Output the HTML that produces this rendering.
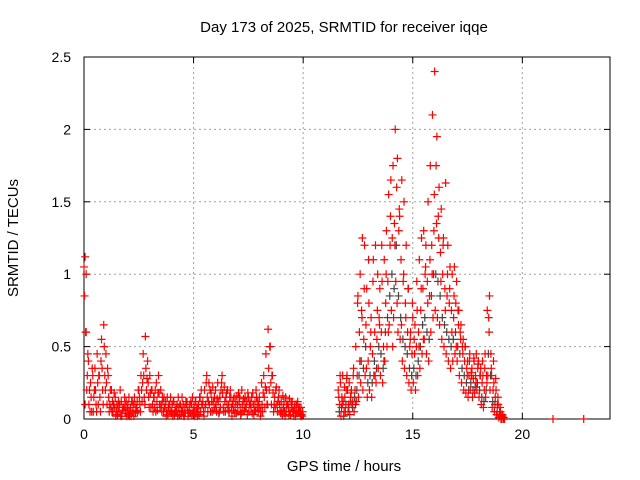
<!DOCTYPE html>
<html><head><meta charset="utf-8"><style>
body{margin:0;background:#fff}
svg{display:block;font-family:"Liberation Sans",sans-serif}
</style></head><body>
<svg id="chart" width="640" height="480">
<text x="344" y="32" text-anchor="middle" font-size="15">Day 173 of 2025, SRMTID for receiver iqqe</text>
<text x="344" y="471" text-anchor="middle" font-size="15">GPS time / hours</text>
<text transform="translate(18,238) rotate(-90)" text-anchor="middle" font-size="15">SRMTID / TECUs</text>
<g id="grid"></g>
<g id="axes"></g>
<g id="marks"></g>
</svg>
<script>
const xTicks=[0,5,10,15,20];
const yTicks=[0,0.5,1,1.5,2,2.5];
const yTickLabels=["0","0.5","1","1.5","2","2.5"];
const lowTimes=[];
const highTimes=[];
const lowA=[1.05,0.6,0.4,0.25,0.3,0.35,0.45,0.3,0.55,0.65,0.45,0.3,0.2,0.12,0.08,0.1,0.05,0.12,0.08,0.04,0.1,0.06,0.12,0.15,0.08,0.2,0.3,0.45,0.57,0.4,0.3,0.2,0.15,0.25,0.3,0.2,0.12,0.08,0.15,0.1,0.05,0.12,0.08,0.15,0.1,0.05,0.08,0.12,0.06,0.1,0.05,0.12,0.08,0.15,0.1,0.2,0.3,0.25,0.18,0.12,0.2,0.25,0.15,0.3,0.22,0.18,0.1,0.15,0.12,0.08,0.1,0.15,0.2,0.12,0.08,0.15,0.1,0.18,0.12,0.08,0.15,0.25,0.3,0.45,0.62,0.5,0.3,0.15,0.1,0.2,0.12,0.08,0.15,0.1,0.05,0.12,0.08,0.1,0.05,0.08];
const lowB=[0.85,0.2,0.1,0.15,0.05,0.2,0.25,0.15,0.35,0.5,0.25,0.15,0.08,0.05,0.15,0.03,0.1,0.02,0.06,0.12,0.03,0.08,0.05,0.1,0.12,0.15,0.2,0.3,0.35,0.25,0.18,0.1,0.08,0.12,0.18,0.1,0.05,0.12,0.03,0.06,0.1,0.03,0.05,0.08,0.03,0.1,0.04,0.06,0.1,0.03,0.08,0.04,0.1,0.05,0.12,0.08,0.15,0.1,0.12,0.06,0.1,0.12,0.08,0.18,0.12,0.1,0.05,0.08,0.06,0.12,0.05,0.08,0.1,0.06,0.12,0.05,0.08,0.1,0.06,0.12,0.08,0.1,0.15,0.2,0.35,0.25,0.18,0.08,0.05,0.1,0.06,0.12,0.05,0.08,0.03,0.06,0.1,0.04,0.08,0.03];
const lowC=[0.1,0.3,0.2,0.05,0.15,0.1,0.1,0.05,0.2,0.3,0.1,0.05,0.2,0.1,0.02,0.08,0.2,0.06,0.15,0.02,0.15,0.02,0.1,0.04,0.05,0.1,0.12,0.15,0.2,0.15,0.08,0.05,0.2,0.06,0.1,0.05,0.15,0.02,0.08,0.15,0.02,0.06,0.1,0.03,0.06,0.02,0.12,0.02,0.04,0.15,0.02,0.07,0.03,0.2,0.05,0.1,0.05,0.2,0.05,0.15,0.05,0.04,0.2,0.08,0.05,0.2,0.15,0.02,0.15,0.04,0.18,0.03,0.05,0.15,0.03,0.1,0.15,0.03,0.2,0.05,0.02,0.05,0.08,0.1,0.2,0.1,0.05,0.2,0.12,0.05,0.03,0.05,0.1,0.03,0.12,0.05,0.02,0.12,0.05,0.02];
const lowD=[0.6,0.45,0.05,0.35,0.2,0.05,0.3,0.4,0.1,0.2,0.35,0.1,0.05,0.18,0.05,0.12,0.02,0.08,0.1,0.07,0.02,0.12,0.02,0.06,0.2,0.05,0.25,0.1,0.28,0.08,0.2,0.15,0.05,0.18,0.08,0.15,0.08,0.05,0.1,0.04,0.12,0.05,0.02,0.1,0.15,0.02,0.1,0.04,0.12,0.06,0.12,0.02,0.15,0.1,0.02,0.25,0.12,0.05,0.22,0.08,0.14,0.05,0.25,0.05,0.15,0.06,0.2,0.1,0.04,0.16,0.12,0.04,0.14,0.08,0.18,0.12,0.04,0.06,0.15,0.1,0.05,0.18,0.22,0.1,0.5,0.3,0.1,0.22,0.15,0.04,0.16,0.02,0.1,0.14,0.08,0.02,0.05,0.08,0.02,0.05];
const highA=[0.2,0.25,0.3,0.15,0.3,0.25,0.2,0.35,0.5,0.85,1.0,1.25,1.2,0.9,0.8,0.7,1.1,1.2,1.0,0.9,0.95,1.1,1.3,1.55,1.65,1.75,2.0,1.8,1.4,1.65,1.5,1.2,0.9,0.6,0.7,0.65,0.75,1.1,1.25,1.3,1.2,1.5,1.75,2.1,2.4,1.95,1.6,1.45,1.25,1.63,1.2,1.05,1.0,1.05,0.95,0.75,0.65,0.55,0.5,0.4,0.45,0.35,0.4,0.45,0.4,0.35,0.3,0.45,0.75,0.85,0.3,0.25,0.2,0.1,0.05,0.02];
const highB=[0.1,0.15,0.05,0.2,0.1,0.15,0.12,0.2,0.3,0.6,0.75,0.55,0.65,0.4,0.5,0.45,0.6,0.55,0.7,0.6,0.5,0.8,0.95,1.2,1.25,1.35,1.6,1.3,1.1,0.95,0.8,0.6,0.5,0.45,0.55,0.5,0.6,0.75,0.9,1.0,0.95,0.85,1.2,1.3,1.75,1.4,1.15,1.0,0.9,0.85,0.8,0.75,0.7,0.8,0.75,0.6,0.5,0.4,0.35,0.3,0.32,0.28,0.3,0.35,0.3,0.25,0.2,0.3,0.7,0.45,0.2,0.15,0.1,0.05,0.02,0.0];
const highC=[0.05,0.08,0.02,0.1,0.05,0.12,0.08,0.15,0.2,0.3,0.4,0.35,0.5,0.25,0.3,0.25,0.4,0.35,0.5,0.45,0.35,0.6,0.7,0.85,1.0,0.9,1.2,0.85,0.7,0.55,0.5,0.45,0.35,0.3,0.35,0.3,0.4,0.5,0.65,0.7,0.6,0.55,0.85,1.0,1.0,0.95,0.85,0.7,0.65,0.6,0.55,0.5,0.55,0.6,0.5,0.45,0.35,0.3,0.25,0.2,0.25,0.2,0.22,0.25,0.2,0.15,0.12,0.2,0.45,0.3,0.12,0.1,0.05,0.02,0.0,0.01];
const highD=[0.15,0.02,0.12,0.05,0.2,0.03,0.1,0.05,0.12,0.15,0.25,0.2,0.3,0.15,0.2,0.15,0.3,0.25,0.35,0.3,0.25,0.4,0.5,0.65,0.75,0.7,0.95,0.6,0.55,0.4,0.35,0.3,0.25,0.2,0.25,0.2,0.3,0.35,0.45,0.55,0.45,0.4,0.6,0.7,0.75,0.7,0.65,0.55,0.5,0.45,0.4,0.35,0.4,0.45,0.4,0.3,0.25,0.2,0.18,0.15,0.2,0.15,0.18,0.2,0.15,0.1,0.08,0.15,0.3,0.2,0.08,0.05,0.03,0.01,0.0,0.0];
const highE=[0.3,0.1,0.22,0.28,0.08,0.18,0.3,0.1,0.8,0.4,0.7,0.9,0.35,1.1,0.6,0.95,0.3,0.75,0.65,1.2,0.4,1.0,0.6,1.4,0.5,1.2,0.8,1.45,0.65,1.0,0.7,0.9,0.55,0.8,0.45,0.95,0.5,0.9,0.55,1.05,0.8,1.1,1.0,1.55,1.35,1.25,0.95,1.2,0.75,1.0,0.9,0.6,0.85,0.5,0.65,0.55,0.45,0.5,0.3,0.4,0.3,0.42,0.25,0.38,0.3,0.4,0.35,0.25,0.6,0.35,0.4,0.28,0.15,0.08,0.03,0.0];
const extraTimes=[0.05,0.1,21.4,22.8];
const extraValues=[1.12,1.0,0.0,0.0];
for(let i=0;i<100;i++)lowTimes.push(i/10);
for(let i=0;i<76;i++)highTimes.push(11.6+i/10);

const L=84,R=610,T=57,B=419,XMAX=24,YMAX=2.5;
const xs=v=>L+(R-L)*v/XMAX;
const ys=v=>B-(B-T)*v/YMAX;
const NS="http://www.w3.org/2000/svg";
function mk(tag,attrs,parent){const e=document.createElementNS(NS,tag);for(const k in attrs)e.setAttribute(k,attrs[k]);parent.appendChild(e);return e;}
const grid=document.getElementById('grid'),axes=document.getElementById('axes'),marks=document.getElementById('marks');
xTicks.forEach(t=>{
  if(t>0){const g=mk('line',{x1:xs(t),x2:xs(t),y1:T,y2:B,stroke:'#a0a0a0','stroke-dasharray':'2,3'},grid);
  
  }
  mk('line',{x1:xs(t),x2:xs(t),y1:B,y2:B-6,stroke:'#000'},axes);
  mk('line',{x1:xs(t),x2:xs(t),y1:T,y2:T+6,stroke:'#000'},axes);
  const tx=mk('text',{x:xs(t),y:B+20,'text-anchor':'middle','font-size':'14'},axes);tx.textContent=t;
  
  
});
yTicks.forEach((t,i)=>{
  if(t>0&&t<YMAX){const g=mk('line',{x1:L,x2:R,y1:ys(t),y2:ys(t),stroke:'#a0a0a0','stroke-dasharray':'2,3'},grid);
  
  }
  mk('line',{x1:L,x2:L+6,y1:ys(t),y2:ys(t),stroke:'#000'},axes);
  mk('line',{x1:R,x2:R-6,y1:ys(t),y2:ys(t),stroke:'#000'},axes);
  const tx=mk('text',{x:L-13,y:ys(t)+5,'text-anchor':'end','font-size':'14'},axes);tx.textContent=yTickLabels[i];
  
  
});
const fr=mk('rect',{x:L,y:T,width:R-L,height:B-T,fill:'none',stroke:'#000'},axes);


function plus(t,v,color){
  const x=xs(t),y=ys(v);
  const p=mk('path',{d:`M${x-4} ${y}H${x+4}M${x} ${y-4}V${y+4}`,stroke:color,'stroke-width':1.2,fill:'none'},marks);
  
  
}
function series(times,vals,off,color){const n=Math.min(times.length,vals.length);for(let i=0;i<n;i++)plus(times[i]+off,vals[i],color);}
series(highTimes,highC,0.05,'#444');
series(lowTimes,lowC,0.05,'#f00');
series(lowTimes,lowD,0.075,'#f00');
series(lowTimes,lowB,0.025,'#f00');
series(lowTimes,lowA,0,'#f00');
series(highTimes,highD,0.025,'#f00');
series(highTimes,highE,0.085,'#f00');
series(highTimes,highB,0.065,'#f00');
series(highTimes,highA,0,'#f00');
series(extraTimes,extraValues,0,'#f00');
</script>
</body></html>
